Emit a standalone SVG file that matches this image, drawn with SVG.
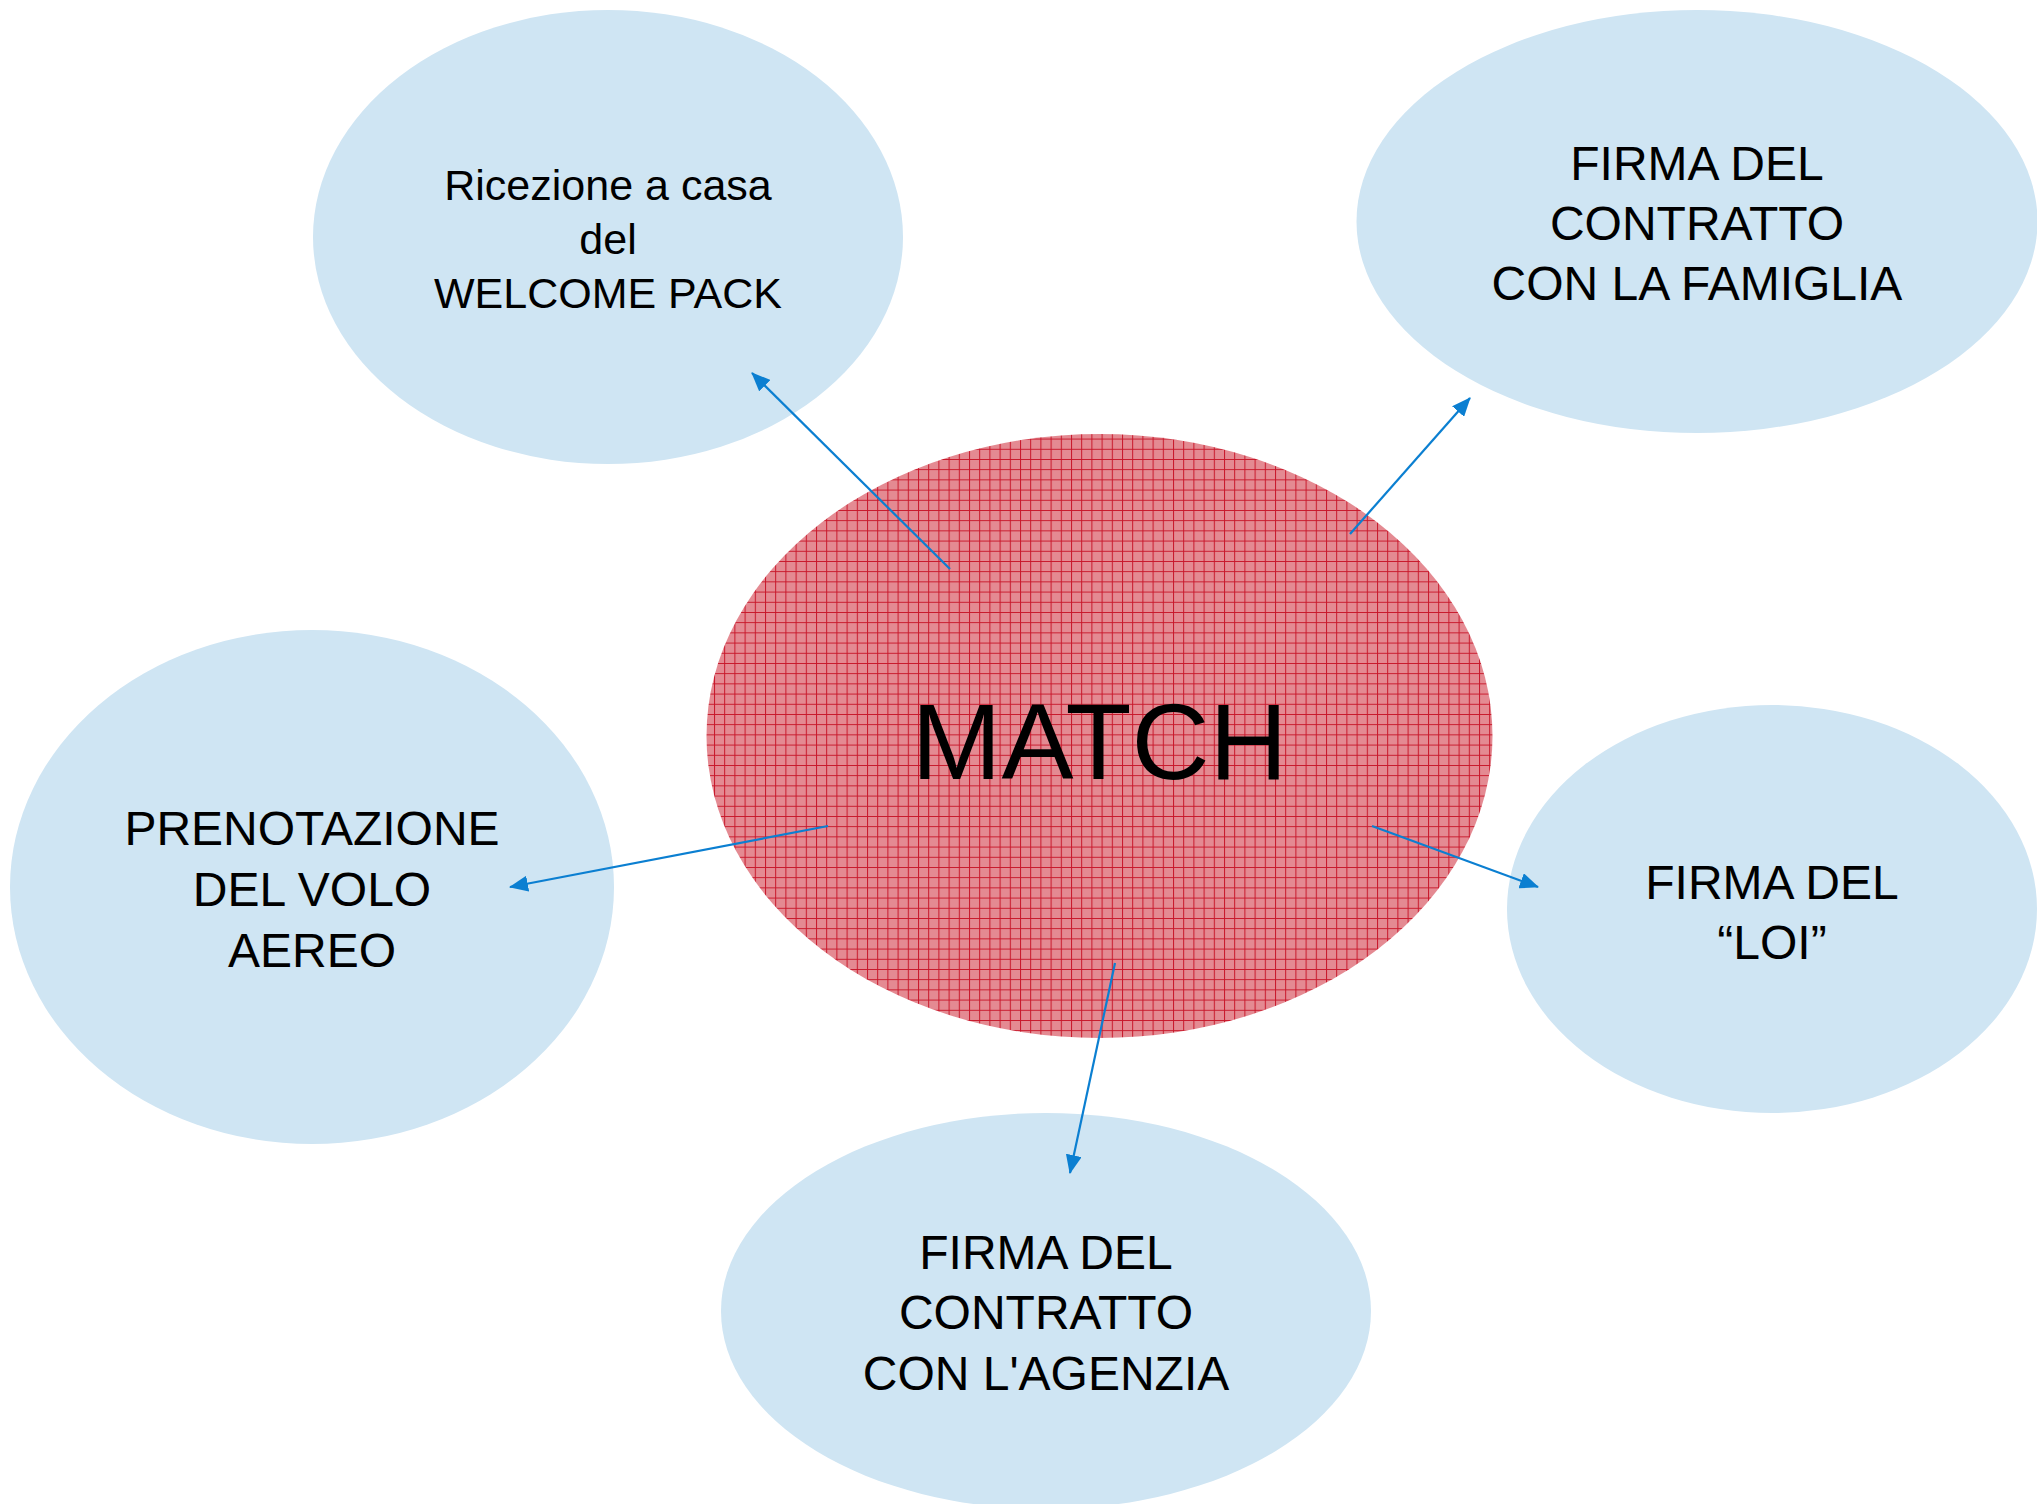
<svg xmlns="http://www.w3.org/2000/svg" width="2037" height="1504" viewBox="0 0 2037 1504">
<style>
.bub{fill:#cfe5f3;}
.t{font-family:"Liberation Sans",Arial,sans-serif;fill:#000;text-anchor:middle;}
.c{stroke:#0b7fd1;stroke-width:2.2;fill:none;marker-end:url(#ah);}
</style>
<defs>
<pattern id="grid" width="10.2" height="10.2" patternUnits="userSpaceOnUse">
<rect width="10.2" height="10.2" fill="#e48a92"/>
<path d="M0 0.5H10.2M0.5 0V10.2" stroke="#c8172a" stroke-width="1"/>
</pattern>
<marker id="ah" markerWidth="20" markerHeight="16" refX="18" refY="8" orient="auto" markerUnits="userSpaceOnUse">
<path d="M0 0L19 8L0 16Z" fill="#0b7fd1"/>
</marker>
</defs>
<rect width="2037" height="1504" fill="#fff"/>
<g id="node-welcome">
<ellipse class="bub" cx="608" cy="237" rx="295" ry="227"/>
<text class="t" font-size="43" x="608" y="200">Ricezione a casa</text>
<text class="t" font-size="43" x="608" y="254">del</text>
<text class="t" font-size="43" x="608" y="308">WELCOME PACK</text>
</g>
<g id="node-famiglia">
<ellipse class="bub" cx="1697" cy="221.5" rx="340.5" ry="211.5"/>
<text class="t" font-size="48" x="1697" y="180">FIRMA DEL</text>
<text class="t" font-size="48" x="1697" y="240">CONTRATTO</text>
<text class="t" font-size="48" x="1697" y="300">CON LA FAMIGLIA</text>
</g>
<g id="node-volo">
<ellipse class="bub" cx="312" cy="887" rx="302" ry="257"/>
<text class="t" font-size="48" x="312" y="845">PRENOTAZIONE</text>
<text class="t" font-size="48" x="312" y="906">DEL VOLO</text>
<text class="t" font-size="48" x="312" y="967">AEREO</text>
</g>
<g id="node-loi">
<ellipse class="bub" cx="1772" cy="909" rx="265" ry="204"/>
<text class="t" font-size="48" x="1772" y="899">FIRMA DEL</text>
<text class="t" font-size="48" x="1772" y="959">“LOI”</text>
</g>
<g id="node-agenzia">
<ellipse class="bub" cx="1046" cy="1311" rx="325" ry="198"/>
<text class="t" font-size="48" x="1046" y="1269">FIRMA DEL</text>
<text class="t" font-size="48" x="1046" y="1329">CONTRATTO</text>
<text class="t" font-size="48" x="1046" y="1390">CON L'AGENZIA</text>
</g>
<g id="node-match">
<ellipse cx="1099.5" cy="736" rx="393" ry="302" fill="url(#grid)"/>
<text class="t" font-size="108" x="1099.5" y="779">MATCH</text>
</g>
<g id="connectors">
<line class="c" x1="950" y1="569" x2="752" y2="373"/>
<line class="c" x1="1350" y1="534" x2="1470" y2="398"/>
<line class="c" x1="828" y1="826" x2="510" y2="887"/>
<line class="c" x1="1372" y1="826" x2="1538" y2="887"/>
<line class="c" x1="1115" y1="963" x2="1070" y2="1173"/>
</g>
</svg>
